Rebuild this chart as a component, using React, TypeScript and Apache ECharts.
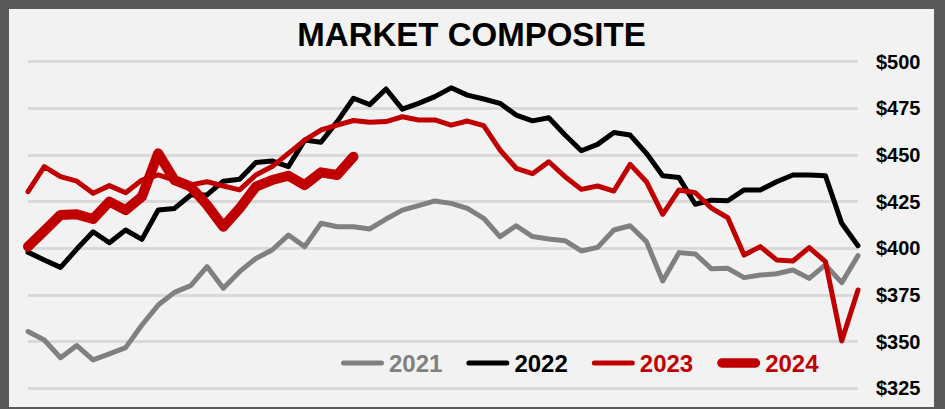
import React, { useEffect, useRef } from "react";
import * as echarts from "echarts";

const weeks: string[] = Array.from({ length: 52 }, (_, i) => String(i + 1));

const y2021 = [
  355.4, 350.9, 341.4, 347.9, 340.2, 343.4, 346.8, 358.9, 369.6, 376.4,
  380.0, 390.2, 378.6, 387.5, 394.6, 399.1, 407.1, 400.9, 413.4, 411.6,
  411.6, 410.4, 415.7, 420.5, 422.9, 425.4, 424.1, 421.4, 416.1, 406.3,
  412.1, 406.3, 405.0, 404.1, 398.6, 400.5, 409.8, 412.1, 403.6, 382.5,
  397.7, 397.0, 389.0, 389.3, 384.3, 385.7, 386.4, 388.4, 383.9, 391.1,
  381.6, 396.1,
];

const y2022 = [
  397.9, 393.8, 389.8, 399.6, 408.9, 403.0, 409.8, 404.8, 420.5, 421.4,
  428.6, 428.6, 436.0, 437.0, 446.0, 446.8, 443.8, 458.0, 456.8, 467.9,
  480.4, 477.0, 485.4, 474.6, 477.7, 481.3, 486.0, 482.1, 480.0, 477.7,
  471.4, 468.3, 470.0, 460.7, 452.3, 455.7, 462.1, 460.7, 450.9, 438.9,
  437.9, 423.6, 425.8, 425.5, 431.3, 431.3, 435.7, 439.3, 439.3, 438.9,
  413.4, 401.4,
];

const y2023 = [
  430.4, 443.8, 438.4, 436.0, 429.5, 433.6, 429.8, 436.6, 439.3, 436.6,
  434.0, 435.7, 433.4, 431.3, 439.3, 443.8, 450.9, 458.0, 463.4, 466.0,
  468.5, 467.5, 467.9, 470.5, 468.8, 468.8, 466.0, 468.2, 465.7, 452.7,
  442.9, 440.0, 446.4, 438.4, 431.6, 433.4, 430.7, 445.0, 435.7, 418.2,
  431.3, 429.8, 421.5, 416.4, 396.4, 400.9, 393.8, 393.2, 400.4, 392.9,
  350.4, 377.7,
];

const y2024 = [
  400.9, 409.3, 417.9, 418.2, 415.7, 425.0, 420.5, 427.7, 450.9, 436.6,
  433.0, 423.2, 411.6, 421.4, 433.0, 436.6, 438.9, 433.9, 440.7, 439.3,
  449.1,
];

const seriesNames = ["2021", "2022", "2023", "2024"];
const seriesColors = ["#808080", "#000000", "#c00000", "#c00000"];
const seriesWidths = [5, 5, 5, 10];

const FONT = 'Arial, "Liberation Sans", "Helvetica Neue", sans-serif';

const thinIcon = "path://M2.5,0 L40.5,0 A2.5,2.5 0 0 1 40.5,5 L2.5,5 A2.5,2.5 0 0 1 2.5,0 Z";
const thickIcon = "path://M5,0 L41,0 A5,5 0 0 1 41,10 L5,10 A5,5 0 0 1 5,0 Z";

export default function App() {
  const ref = useRef<HTMLDivElement>(null);

  useEffect(() => {
    if (!ref.current) return;
    const chart = echarts.init(ref.current, null, { renderer: "svg" });
    const data = [y2021, y2022, y2023, y2024];
    chart.setOption({
      animation: false,
      backgroundColor: "#f2f2f2",
      title: {
        text: "MARKET COMPOSITE",
        left: "center",
        top: 4,
        textStyle: {
          fontFamily: FONT,
          fontSize: 33,
          fontWeight: "bold",
          color: "#000000",
        },
      },
      legend: {
        left: 332,
        top: 342,
        padding: 0,
        itemWidth: 43,
        itemHeight: 10,
        itemGap: 24,
        symbolKeepAspect: true,
        data: seriesNames.map((n, i) => ({
          name: n,
          icon: i === 3 ? thickIcon : thinIcon,
          itemStyle: { color: seriesColors[i] },
          textStyle: {
            color: seriesColors[i],
            fontFamily: FONT,
            fontSize: 24,
            fontWeight: "bold",
          },
        })),
      },
      grid: { left: 19, right: 76, top: 52.7, bottom: 18.7, containLabel: false },
      xAxis: {
        type: "category",
        data: weeks,
        boundaryGap: false,
        axisLine: { show: false },
        axisTick: { show: false },
        axisLabel: { show: false },
        splitLine: { show: false },
      },
      yAxis: {
        type: "value",
        position: "right",
        min: 325,
        max: 500,
        interval: 25,
        axisLine: { show: false },
        axisTick: { show: false },
        axisLabel: {
          margin: 18,
          formatter: (v: number) => "$" + v,
          fontFamily: FONT,
          fontSize: 20,
          fontWeight: "bold",
          color: "#000000",
        },
        splitLine: { lineStyle: { color: "#d9d9d9", width: 3 } },
      },
      series: seriesNames.map((n, i) => ({
        name: n,
        type: "line",
        data: data[i],
        showSymbol: false,
        symbol: "none",
        color: seriesColors[i],
        lineStyle: {
          color: seriesColors[i],
          width: seriesWidths[i],
          cap: "round",
          join: "round",
        },
        z: 2 + i,
      })),
    });
    return () => chart.dispose();
  }, []);

  return (
    <div
      style={{
        position: "absolute",
        left: 0,
        top: 0,
        width: 945,
        height: 409,
        background: "#595959",
      }}
    >
      <div
        ref={ref}
        style={{ position: "absolute", left: 9, top: 9, width: 925, height: 398 }}
      />
    </div>
  );
}
